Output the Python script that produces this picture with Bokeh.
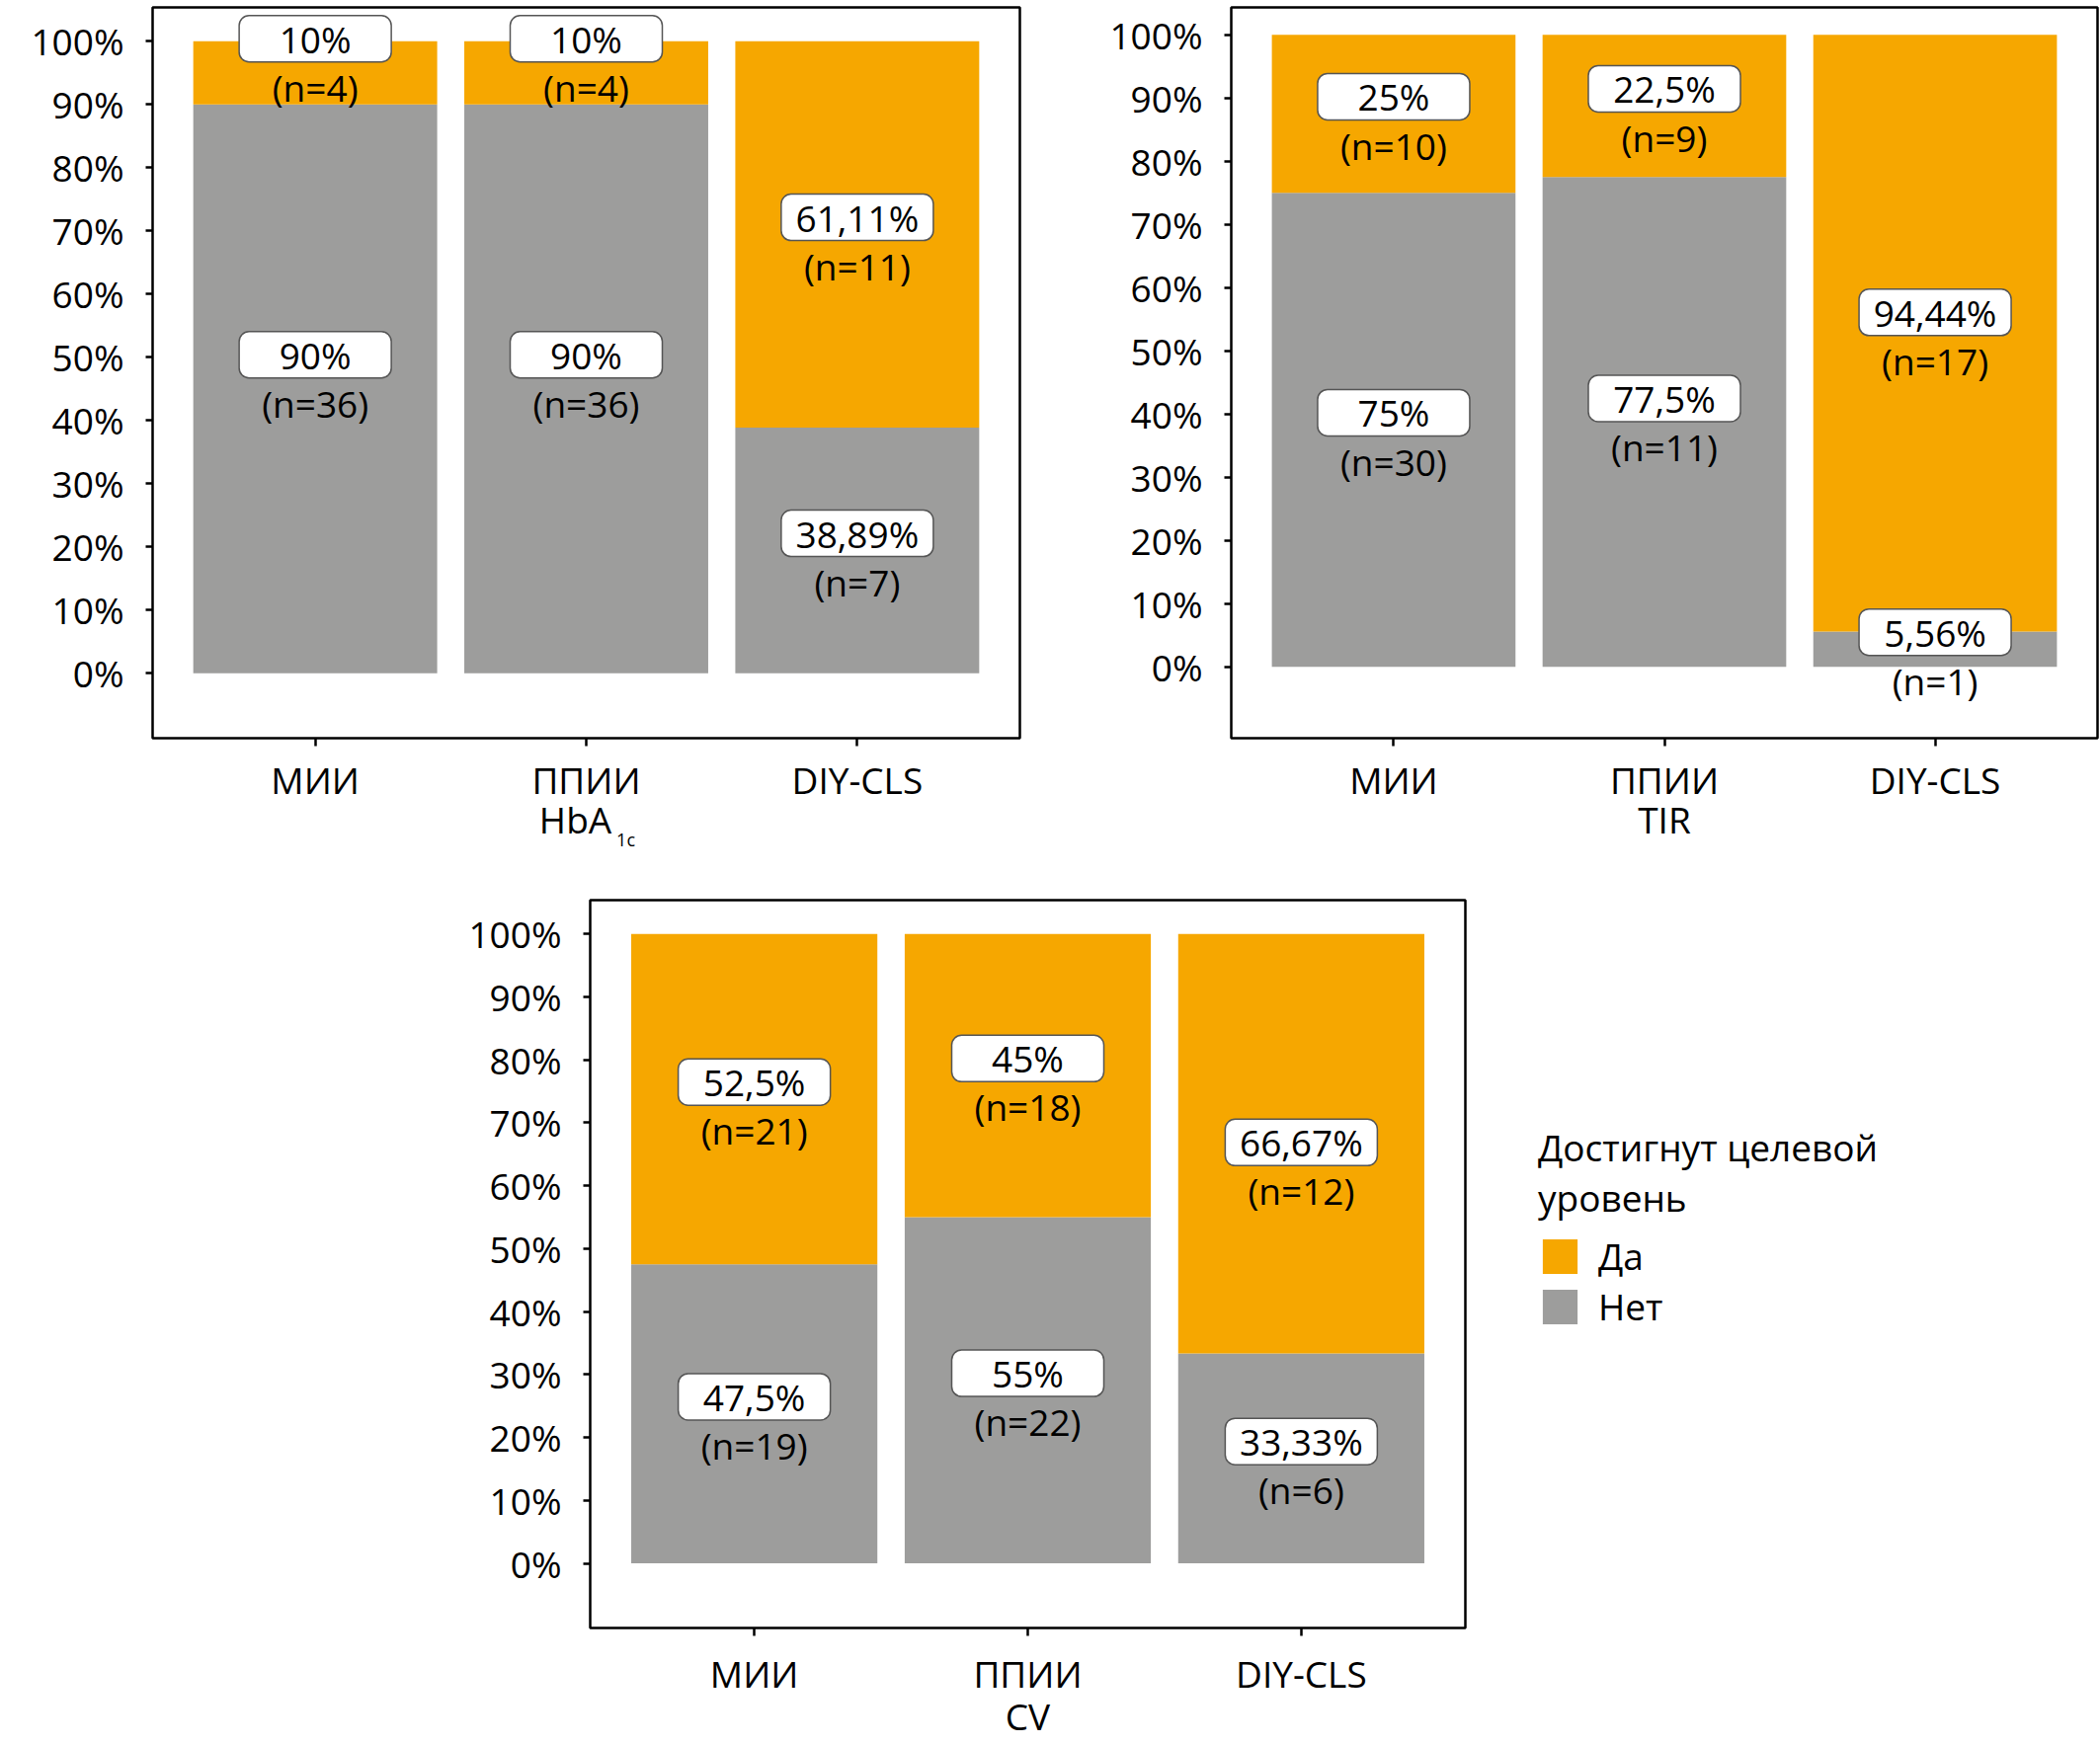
from bokeh.plotting import figure
from bokeh.models import (ColumnDataSource, Range1d, FixedTicker,
                          PrintfTickFormatter, LinearAxis, Legend, LegendItem, Spacer)
from bokeh.layouts import row, column
from bokeh.core.properties import value
from bokeh.embed import file_html
from bokeh.resources import INLINE

# ---------------- data ----------------
CATEGORIES = ["МИИ", "ППИИ", "DIY-CLS"]
SERIES = ["Да", "Нет"]
LEGEND_TITLE = "Достигнут целевой\nуровень"
Y_TICKS = [0, 10, 20, 30, 40, 50, 60, 70, 80, 90, 100]
METRICS = ["HbA", "TIR", "CV"]
HBA_SUB = "1c"

HBA1C_DA_PCT = [10, 10, 61.11]
HBA1C_NET_PCT = [90, 90, 38.89]
HBA1C_DA_N = [4, 4, 11]
HBA1C_NET_N = [36, 36, 7]

TIR_DA_PCT = [25, 22.5, 94.44]
TIR_NET_PCT = [75, 77.5, 5.56]
TIR_DA_N = [10, 9, 17]
TIR_NET_N = [30, 11, 1]

CV_DA_PCT = [52.5, 45, 66.67]
CV_NET_PCT = [47.5, 55, 33.33]
CV_DA_N = [21, 18, 12]
CV_NET_N = [19, 22, 6]

# ---------------- style ----------------
FONT = "Open Sans"
ORANGE = "#F6A700"
GRAY = "#9D9D9C"
PX_PER_UNIT = 6.4
BOX_OFFSET = 2.7
N_GAP = 7.7
NUDGE = {(0, 0, "da"): 2.7, (0, 0, "net"): 2.7, (0, 1, "da"): 2.7, (0, 1, "net"): 2.7,
         (1, 1, "net"): 1.0, (1, 2, "da"): 0.6, (2, 2, "da"): -2.5}

XPOS = [i + 0.5 for i in range(len(CATEGORIES))]   # category slots on the x scale


def fmt_pct(v):
    return f"{v:g}".replace(".", ",") + "%"


def extra_label_axis(p, pos, text, size, standoff):
    ax = LinearAxis(ticker=FixedTicker(ticks=[pos], minor_ticks=[]),
                    major_label_overrides={pos: text})
    ax.axis_line_color = None
    ax.major_tick_line_color = None
    ax.minor_tick_line_color = None
    ax.major_tick_in = 0
    ax.major_tick_out = 0
    ax.major_label_text_font = FONT
    ax.major_label_text_font_size = size
    ax.major_label_text_color = "black"
    ax.major_label_standoff = standoff
    p.add_layout(ax, "below")
    return ax


def make_panel(idx, width, height, mbl, mbr, mbt, mbb, zero_from_top,
               da, net, da_n, net_n, x_standoff):
    frame_h = height - mbt - mbb
    y_end = zero_from_top / PX_PER_UNIT
    y_start = -(frame_h - zero_from_top) / PX_PER_UNIT
    p = figure(width=width, height=height,
               x_range=Range1d(-0.1, len(CATEGORIES) + 0.1),
               y_range=Range1d(y_start, y_end),
               output_backend="svg", toolbar_location=None,
               min_border_left=mbl, min_border_right=mbr,
               min_border_top=mbt, min_border_bottom=mbb)
    p.outline_line_color = "black"
    p.outline_line_width = 2.5
    p.xgrid.visible = False
    p.ygrid.visible = False
    p.background_fill_color = "white"
    p.border_fill_color = "white"

    ya = p.yaxis[0]
    ya.ticker = FixedTicker(ticks=Y_TICKS, minor_ticks=[])
    ya.formatter = PrintfTickFormatter(format="%d%%")
    ya.axis_line_color = None
    ya.major_tick_in = 0
    ya.major_tick_out = 7
    ya.major_tick_line_width = 2.5
    ya.minor_tick_line_color = None
    ya.major_label_text_font = FONT
    ya.major_label_text_font_size = "37px"
    ya.major_label_text_color = "black"
    ya.major_label_standoff = 22

    xa = p.xaxis[0]
    xa.ticker = FixedTicker(ticks=XPOS, minor_ticks=[])
    xa.major_label_overrides = {x: c for x, c in zip(XPOS, CATEGORIES)}
    xa.axis_line_color = None
    xa.major_tick_in = 0
    xa.major_tick_out = 8
    xa.major_tick_line_width = 2.5
    xa.minor_tick_line_color = None
    xa.major_label_text_font = FONT
    xa.major_label_text_font_size = "37px"
    xa.major_label_text_color = "black"
    xa.major_label_standoff = x_standoff

    top = [n + d for n, d in zip(net, da)]
    src = ColumnDataSource(dict(x=XPOS, net=net, top=top))
    r_net = p.vbar(x="x", bottom=0, top="net", width=0.9, source=src,
                   fill_color=GRAY, line_color=None)
    r_da = p.vbar(x="x", bottom="net", top="top", width=0.9, source=src,
                  fill_color=ORANGE, line_color=None)

    xs, box_y, n_y, pct_t, n_t = [], [], [], [], []
    for i, x in enumerate(XPOS):
        for key, bottom, pct, n in (("net", 0, net[i], net_n[i]),
                                    ("da", net[i], da[i], da_n[i])):
            center = bottom + pct / 2
            by = center + BOX_OFFSET + NUDGE.get((idx, i, key), 0)
            xs.append(x)
            box_y.append(by)
            n_y.append(by - N_GAP)
            pct_t.append(fmt_pct(pct))
            n_t.append(f"(n={n})")
    lab = ColumnDataSource(dict(x=xs, box_y=box_y, n_y=n_y, pct=pct_t, n=n_t))
    p.rect(x="x", y="box_y", width=154, height=47, width_units="screen",
           height_units="screen", fill_color="white", line_color="#555555",
           line_width=1.5, border_radius=10, source=lab)
    p.text(x="x", y="box_y", text="pct", text_align="center", text_baseline="middle",
           text_font=value(FONT), text_font_size="37px", text_color="black", source=lab)
    p.text(x="x", y="n_y", text="n", text_align="center", text_baseline="middle",
           text_font=value(FONT), text_font_size="37px", text_color="black", source=lab)
    return p, r_da, r_net


# panel 1: HbA1c
p1, _, _ = make_panel(0, 1092, 880, 154, 60, 7, 133, 674.3,
                      HBA1C_DA_PCT, HBA1C_NET_PCT, HBA1C_DA_N, HBA1C_NET_N, 8)
extra_label_axis(p1, XPOS[1] - 0.04, METRICS[0], "37px", -14)
extra_label_axis(p1, XPOS[1] + 0.146, HBA_SUB, "18px", -20)

# panel 2: TIR
p2, _, _ = make_panel(1, 1034, 880, 154, 3, 7, 133, 667.7,
                      TIR_DA_PCT, TIR_NET_PCT, TIR_DA_N, TIR_NET_N, 8)
extra_label_axis(p2, XPOS[1], METRICS[1], "37px", -14)

# panel 3: CV + legend
p3, r_da3, r_net3 = make_panel(2, 1626, 885, 140, 600, 31, 114, 674.3,
                               CV_DA_PCT, CV_NET_PCT, CV_DA_N, CV_NET_N, 12)
extra_label_axis(p3, XPOS[1], METRICS[2], "37px", -11)

legend = Legend(items=[LegendItem(label=SERIES[0], renderers=[r_da3]),
                       LegendItem(label=SERIES[1], renderers=[r_net3])],
                title=LEGEND_TITLE, location=(74, 300))
legend.title_text_font = FONT
legend.title_text_font_size = "37px"
legend.title_text_font_style = "normal"
legend.title_text_color = "black"
legend.title_text_line_height = 0.84
legend.title_standoff = 8
legend.label_text_font = FONT
legend.label_text_font_size = "37px"
legend.label_text_color = "black"
legend.label_standoff = 17
legend.glyph_width = 44
legend.glyph_height = 44
legend.label_height = 44
legend.spacing = 0
legend.padding = 0
legend.margin = 0
legend.border_line_color = None
legend.background_fill_alpha = 0
p3.add_layout(legend, "right")

layout = column(row(p1, p2), row(Spacer(width=457, height=10), p3))

open("out.html", "w").write(file_html(layout, INLINE))
